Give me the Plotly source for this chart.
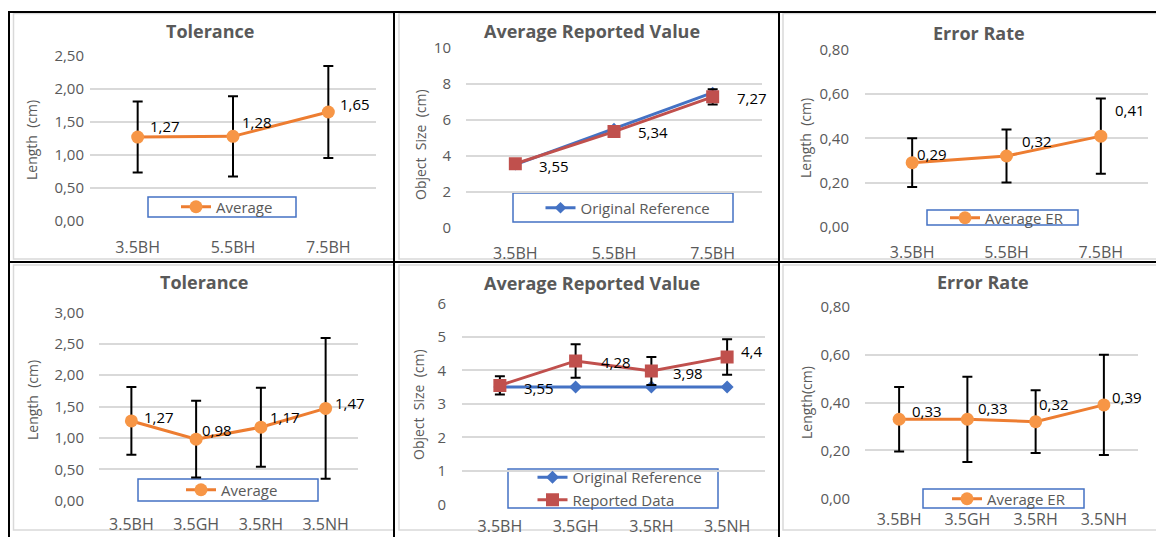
import plotly.graph_objects as go

# ---------------- data ----------------
top_cats = ["3.5BH", "5.5BH", "7.5BH"]
bottom_cats = ["3.5BH", "3.5GH", "3.5RH", "3.5NH"]

tol_top_avg = [1.27, 1.28, 1.65]
tol_top_err = [0.54, 0.61, 0.70]

arv_top_ref = [3.5, 5.5, 7.5]
arv_top_rep = [3.55, 5.34, 7.27]
arv_top_err = [0.15, 0.20, 0.42]

er_top_avg = [0.29, 0.32, 0.41]
er_top_err = [0.11, 0.12, 0.17]

tol_bot_avg = [1.27, 0.98, 1.17, 1.47]
tol_bot_err = [0.54, 0.61, 0.63, 1.12]

arv_bot_ref = [3.5, 3.5, 3.5, 3.5]
arv_bot_rep = [3.55, 4.28, 3.98, 4.4]
arv_bot_err = [0.27, 0.50, 0.42, 0.53]

er_bot_avg = [0.33, 0.33, 0.32, 0.39]
er_bot_err = [0.135, 0.178, 0.131, 0.209]

titles = ["Tolerance", "Average Reported Value", "Error Rate",
          "Tolerance", "Average Reported Value", "Error Rate"]
ytitles = ["Length\u00a0\u00a0(cm)", "Object\u00a0\u00a0Size\u00a0\u00a0(cm)", "Length\u00a0\u00a0(cm)",
           "Length\u00a0\u00a0(cm)", "Object\u00a0\u00a0Size\u00a0\u00a0(cm)", "Length(cm)"]

# ---------------- style / layout ----------------
W, H = 1156, 537
FONT = "Open Sans"
GREY = "#595959"
ORANGE_LINE = "#ED7D31"
ORANGE_MK = "#F79646"
BLUE = "#4472C4"
RED = "#C0504D"


def fx(x):
    return x / W


def fy(y):
    return 1 - y / H


# plot-area boxes in pixels: x0, x1, ytop, ybottom
areas = [
    (90, 376, 56, 220.7),
    (466, 762, 47.7, 227.7),
    (865, 1148, 50, 226.7),
    (99, 358, 312.3, 500.7),
    (462, 765, 303.3, 504.3),
    (865, 1138, 306.7, 498.3),
]
yranges = [(0, 2.5, 0.5, ".2f"), (0, 10, 2, "d"), (0, 0.8, 0.2, ".2f"),
           (0, 3, 0.5, ".2f"), (0, 6, 1, "d"), (0, 0.8, 0.2, ".2f")]
title_pos = [(210, 31), (592, 31), (979, 33), (204, 282), (592, 283), (983, 282)]
ytitle_pos = [(32, 140), (420, 145), (805, 138), (32, 400), (418, 405), (806, 403)]
ytick_gap = [5, 14, 15, 14, 15, 14]
xtick_gap = [15, 14, 14, 12, 11, 10]
legend_pos = [(227, 207), (628, 208), (1007, 218), (232, 490), (620, 488.5), (1009, 499)]
legend_box = [(148, 197, 296, 217), (513, 193, 733, 222), (927, 210, 1078, 225),
              (138, 479, 318, 501), (508, 469, 718, 508), (923, 489, 1084, 508)]

label_off = [
    [(10, 11), (7, 14), (10, 8)],
    [(22, -2), (22, 0), (22, -1)],
    [(3, 9), (13, 15), (12, 26)],
    [(11, 4), (4, 9), (7, 10), (7, 5)],
    [(22, -3), (23, -1), (20, -2), (12, 6)],
    [(11, 8), (9, 11), (1, 18), (6, 8)],
]

fig = go.Figure()


def err(arr):
    return dict(type="data", array=arr, visible=True, color="black", thickness=2, width=5)


def avg_trace(i, cats, vals, errs, name):
    return go.Scatter(
        x=cats, y=vals, name=name, mode="lines+markers",
        line=dict(color=ORANGE_LINE, width=3),
        marker=dict(color=ORANGE_MK, size=13, symbol="circle"),
        error_y=err(errs),
        xaxis=f"x{i}", yaxis=f"y{i}",
        legend="legend" if i == 1 else f"legend{i}",
    )


def ref_trace(i, cats, vals, size):
    return go.Scatter(
        x=cats, y=vals, name="Original Reference", mode="lines+markers",
        line=dict(color=BLUE, width=3),
        marker=dict(color=BLUE, size=size, symbol="diamond"),
        xaxis=f"x{i}", yaxis=f"y{i}",
        legend=f"legend{i}",
    )


def rep_trace(i, cats, vals, errs, show):
    return go.Scatter(
        x=cats, y=vals, name="Reported Data", mode="lines+markers",
        line=dict(color=RED, width=3),
        marker=dict(color=RED, size=13, symbol="square"),
        error_y=err(errs), showlegend=show,
        xaxis=f"x{i}", yaxis=f"y{i}",
        legend=f"legend{i}",
    )


fig.add_trace(avg_trace(1, top_cats, tol_top_avg, tol_top_err, "Average"))
fig.add_trace(ref_trace(2, top_cats, arv_top_ref, 9))
fig.add_trace(rep_trace(2, top_cats, arv_top_rep, arv_top_err, False))
fig.add_trace(avg_trace(3, top_cats, er_top_avg, er_top_err, "Average ER"))
fig.add_trace(avg_trace(4, bottom_cats, tol_bot_avg, tol_bot_err, "Average"))
fig.add_trace(ref_trace(5, bottom_cats, arv_bot_ref, 10))
fig.add_trace(rep_trace(5, bottom_cats, arv_bot_rep, arv_bot_err, True))
fig.add_trace(avg_trace(6, bottom_cats, er_bot_avg, er_bot_err, "Average ER"))

label_data = [
    (top_cats, tol_top_avg), (top_cats, arv_top_rep), (top_cats, er_top_avg),
    (bottom_cats, tol_bot_avg), (bottom_cats, arv_bot_rep), (bottom_cats, er_bot_avg),
]

layout = dict(
    width=W, height=H, margin=dict(l=0, r=0, t=0, b=0, pad=0, autoexpand=False),
    paper_bgcolor="white", plot_bgcolor="rgba(0,0,0,0)",
    separators=",.", font=dict(family=FONT, color=GREY),
    showlegend=True,
)

annotations = []
shapes = []
for k in range(6):
    i = k + 1
    x0, x1, yt, yb = areas[k]
    cats = top_cats if k < 3 else bottom_cats
    lo, hi, dt, fmt = yranges[k]
    xa = dict(domain=[fx(x0), fx(x1)], anchor=f"y{i}", type="category",
              range=[-0.5, len(cats) - 0.5], showgrid=False, showline=False,
              zeroline=False, ticks="", tickfont=dict(size=16, color=GREY, family=FONT),
              ticklabelstandoff=xtick_gap[k], fixedrange=True, automargin=False)
    ya = dict(domain=[fy(yb), fy(yt)], anchor=f"x{i}", range=[lo, hi], dtick=dt,
              tick0=0, tickformat=fmt, showgrid=True, gridcolor="#D9D9D9", gridwidth=1.5,
              showline=False, zeroline=False, ticks="",
              tickfont=dict(size=15, color=GREY, family=FONT),
              ticklabelstandoff=ytick_gap[k], fixedrange=True, automargin=False)
    layout["xaxis" if i == 1 else f"xaxis{i}"] = xa
    layout["yaxis" if i == 1 else f"yaxis{i}"] = ya

    lx, ly = legend_pos[k]
    layout["legend" if i == 1 else f"legend{i}"] = dict(
        x=fx(lx), y=fy(ly), xanchor="center", yanchor="middle",
        bgcolor="rgba(0,0,0,0)", borderwidth=0,
        font=dict(size=15, color=GREY, family=FONT),
        tracegroupgap=0, itemwidth=30,
    )

    tx, ty = title_pos[k]
    annotations.append(dict(text=f"<b>{titles[k]}</b>", x=fx(tx), y=fy(ty), xref="paper",
                            yref="paper", showarrow=False, xanchor="center", yanchor="middle",
                            font=dict(size=18, color=GREY, family=FONT)))
    ax_, ay_ = ytitle_pos[k]
    annotations.append(dict(text=ytitles[k], x=fx(ax_), y=fy(ay_), xref="paper", yref="paper",
                            showarrow=False, textangle=-90, xanchor="center", yanchor="middle",
                            font=dict(size=14, color=GREY, family=FONT)))

    lcats, lvals = label_data[k]
    for j, (c, v) in enumerate(zip(lcats, lvals)):
        dx, dy = label_off[k][j]
        annotations.append(dict(text=str(v).replace(".", ","), x=c, y=v,
                                xref=f"x{i}", yref=f"y{i}", showarrow=False,
                                xanchor="left", yanchor="middle", xshift=dx, yshift=dy,
                                font=dict(size=15, color="black", family=FONT)))

    bx0, by0, bx1, by1 = legend_box[k]
    shapes.append(dict(type="rect", xref="paper", yref="paper", x0=fx(bx0), x1=fx(bx1),
                       y0=fy(by1), y1=fy(by0), line=dict(color=BLUE, width=1.5),
                       fillcolor="rgba(0,0,0,0)", layer="below"))

# light grey chart-area borders
chart_boxes = [(13.5, 13.5, 394, 259), (399, 13.5, 779, 259), (783, 13.5, 1160, 259),
               (13.5, 265, 394, 530), (399, 265, 779, 530), (783, 265, 1160, 530)]
for (a, b, c, d) in chart_boxes:
    shapes.append(dict(type="rect", xref="paper", yref="paper", x0=fx(a), x1=fx(c),
                       y0=fy(d), y1=fy(b), line=dict(color="#D9D9D9", width=1.5),
                       layer="below"))

# black table lines
for xv in (9, 394, 779):
    shapes.append(dict(type="line", xref="paper", yref="paper", x0=fx(xv), x1=fx(xv),
                       y0=fy(537), y1=fy(11), line=dict(color="black", width=2)))
for yv in (12, 262):
    shapes.append(dict(type="line", xref="paper", yref="paper", x0=fx(8), x1=fx(1156),
                       y0=fy(yv), y1=fy(yv), line=dict(color="black", width=2)))

layout["annotations"] = annotations
layout["shapes"] = shapes
fig.update_layout(**layout)

# place the figure at the page's top-left corner (no body margin)
post = ("document.body.style.margin='0';document.body.style.overflow='hidden';"
        "var gd=document.getElementById('{plot_id}');"
        "gd.style.position='absolute';gd.style.left='0px';gd.style.top='0px';")

fig.write_html("out.html", post_script=post, config={"displayModeBar": False})
